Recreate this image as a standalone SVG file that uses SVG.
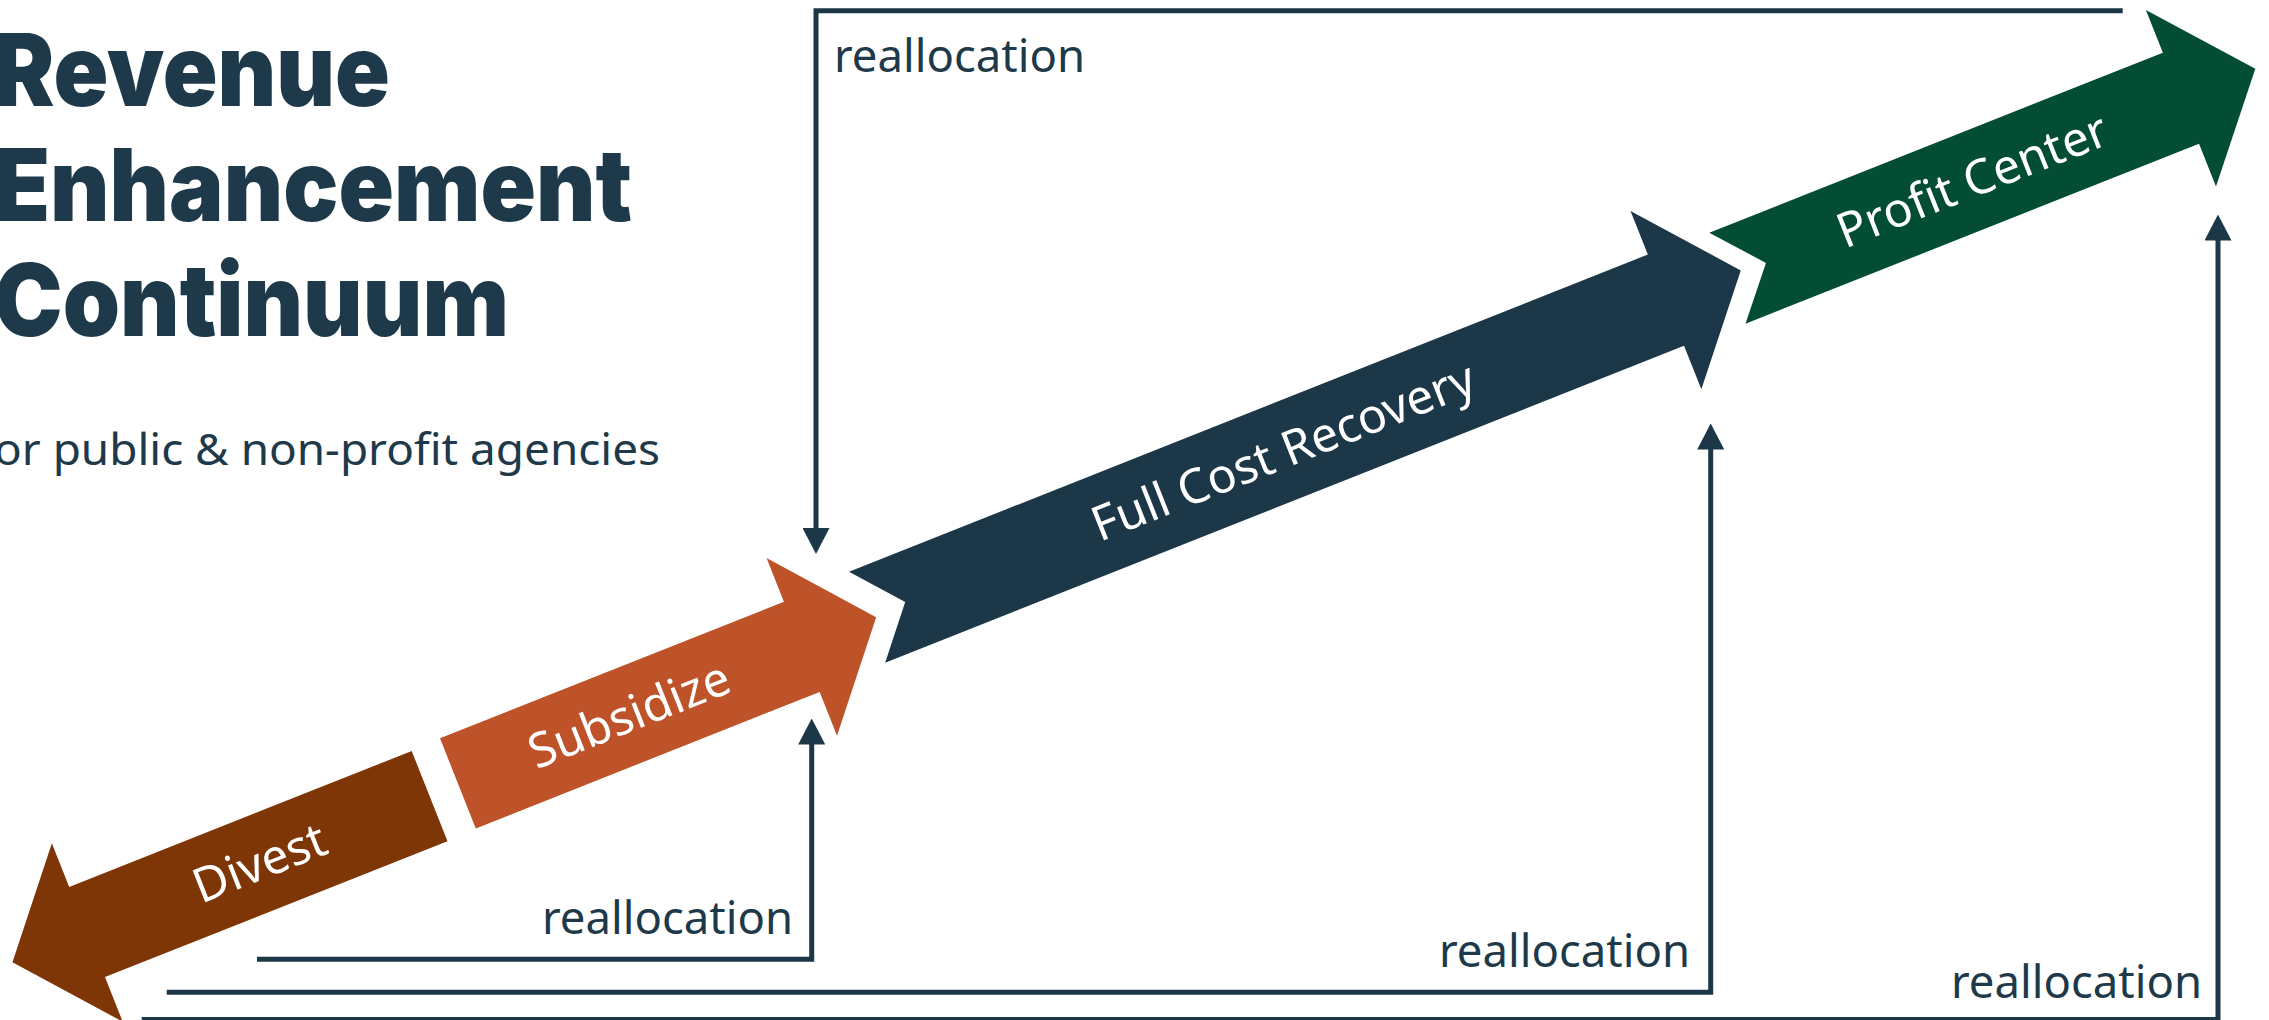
<svg xmlns="http://www.w3.org/2000/svg" width="2269" height="1020" viewBox="0 0 2269 1020">
<style>
.title{font-family:"Inter","Noto Sans",sans-serif;font-weight:900;font-size:100px;fill:#1E3949}
.sub{font-family:"Noto Sans","Open Sans",sans-serif;font-size:44px;fill:#1E3949}
.lbl{font-family:"Noto Sans","Open Sans",sans-serif;font-size:46px;fill:#1E3949}
.alb{font-family:"Noto Sans","Open Sans",sans-serif;font-size:48px;fill:#FFFFFF;text-anchor:middle}
.conn{fill:none;stroke:#1C3747;stroke-width:5;stroke-linejoin:miter;marker-end:url(#ah)}
</style>
<defs>
<marker id="ah" viewBox="0 0 26 27" markerWidth="26" markerHeight="27" markerUnits="userSpaceOnUse" refX="0.5" refY="13.5" orient="auto">
<path d="M0,0 L26,13.5 L0,27 Z" fill="#1C3747"/>
</marker>
</defs>
<rect width="2269" height="1020" fill="#FFFFFF"/>
<g id="title">
<text class="title" x="-6" y="106" textLength="396" lengthAdjust="spacingAndGlyphs">Revenue</text>
<text class="title" x="-6" y="221" textLength="638" lengthAdjust="spacingAndGlyphs">Enhancement</text>
<text class="title" x="-6" y="336" textLength="515" lengthAdjust="spacingAndGlyphs">Continuum</text>
<text class="sub" x="-6" y="465" textLength="666" lengthAdjust="spacingAndGlyphs">or public &amp; non-profit agencies</text>
</g>
<g id="connectors">
<path class="conn" d="M2122.7,10.7 H816 V528.5"/>
<path class="conn" d="M257,959.3 H811.7 V744"/>
<path class="conn" d="M166.7,992.3 H1710.7 V449"/>
<path class="conn" d="M141.7,1019.5 H2218 V240"/>
<text class="lbl" x="834" y="72" textLength="251" lengthAdjust="spacingAndGlyphs">reallocation</text>
<text class="lbl" x="542" y="934" textLength="251" lengthAdjust="spacingAndGlyphs">reallocation</text>
<text class="lbl" x="1439" y="967" textLength="251" lengthAdjust="spacingAndGlyphs">reallocation</text>
<text class="lbl" x="1951" y="998" textLength="251" lengthAdjust="spacingAndGlyphs">reallocation</text>
</g>
<g id="divest" transform="translate(411.7,751) rotate(-21.65)">
<polygon points="0,0 -368.5,0 -368.5,-47 -449,49 -368.5,145 -368.5,97 0,97" fill="#7F3606"/>
<text class="alb" x="-182.6" y="64.5">Divest</text>
</g>
<g id="subsidize" transform="translate(440,738.3) rotate(-21.65)">
<polygon points="0,0 370,0 370,-47 450,48.5 370,144 370,97 0,97" fill="#BE5229"/>
<text class="alb" x="184.4" y="64.5">Subsidize</text>
</g>
<g id="full-cost-recovery" transform="translate(849,571.7) rotate(-21.65)">
<polygon points="0,0 859.5,0 859.5,-47 940,49 859.5,145 859.5,98 0,98 41,49" fill="#1C3747"/>
<text class="alb" x="448" y="65">Full Cost Recovery</text>
</g>
<g id="profit-center" transform="translate(1709.3,232.7) rotate(-21.65)">
<polygon points="0,0 488,0 488,-46 568,49 488,144 488,98 0,98 41.5,49" fill="#034D35"/>
<text class="alb" x="263.7" y="65">Profit Center</text>
</g>
</svg>
